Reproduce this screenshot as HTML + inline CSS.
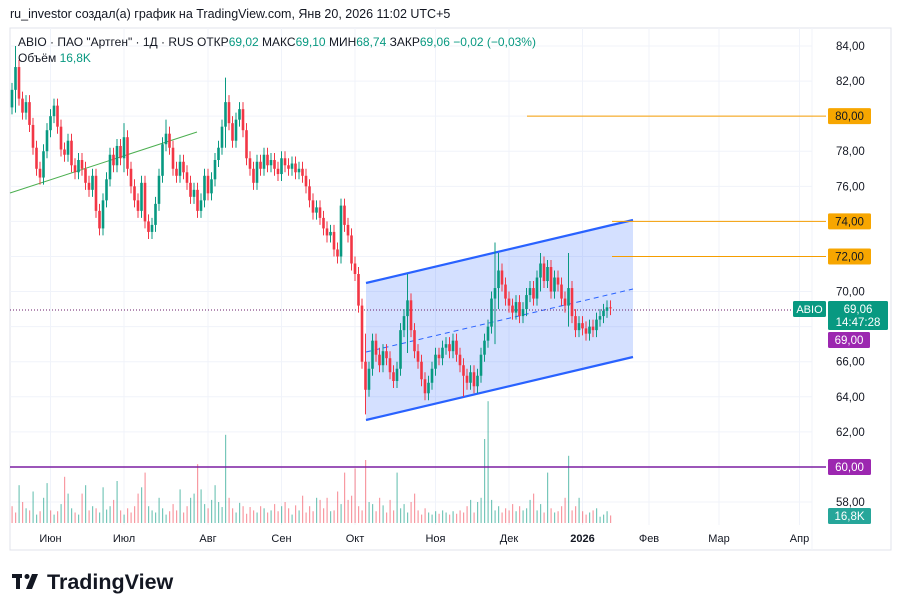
<!DOCTYPE html>
<html><head><meta charset="utf-8"><style>
body{margin:0;background:#fff;width:903px;height:612px;overflow:hidden;font-family:"Liberation Sans","DejaVu Sans",sans-serif}
</style></head><body>
<svg id="s" width="903" height="612" xmlns="http://www.w3.org/2000/svg" style="position:absolute;left:0;top:0">
<text x="10" y="18" font-size="12.5" fill="#131722">ru_investor создал(а) график на TradingView.com, Янв 20, 2026 11:02 UTC+5</text>
<rect x="10" y="28" width="881" height="522" fill="none" stroke="#e0e3eb"/>
<g id="grid"></g>
<g id="vol"></g>
<g id="draw"></g>
<g id="candles"></g>
<g id="axes"></g>
<text x="18" y="46" font-size="12" fill="#131722">ABIO · ПАО "Артген" · 1Д · RUS  ОТКР<tspan fill="#089981">69,02</tspan>  МАКС<tspan fill="#089981">69,10</tspan>  МИН<tspan fill="#089981">68,74</tspan>  ЗАКР<tspan fill="#089981">69,06</tspan>  <tspan fill="#089981">−0,02 (−0,03%)</tspan></text>
<text x="18" y="62" font-size="12" fill="#131722">Объём  <tspan fill="#089981">16,8K</tspan></text>
<g>
<rect x="12" y="574" width="10" height="4" fill="#131722"/><rect x="16" y="574" width="4" height="15" fill="#131722"/><circle cx="27" cy="576.5" r="2.5" fill="#131722"/><polygon points="32,574 38,574 32,589 26,589" fill="#131722"/>
<text x="47" y="589" font-size="21.5" font-weight="bold" fill="#131722">TradingView</text>
</g>
</svg>
<script>
const closes=[81.5,82.8,81.0,80.2,80.8,79.5,78.2,77.0,76.5,78.0,
79.2,80.0,80.6,79.4,78.1,77.8,78.6,77.2,76.8,77.5,
77.0,76.2,75.8,76.6,74.6,73.6,75.2,76.4,77.8,77.2,
78.3,77.6,78.8,77.0,76.0,75.2,74.6,76.2,74.0,73.4,
73.8,75.0,76.6,78.4,79.0,78.2,77.0,76.6,77.4,76.8,
76.2,75.4,75.8,74.6,75.2,76.6,75.6,76.4,77.5,78.2,
79.4,80.8,79.6,78.6,79.8,80.4,79.2,77.6,77.0,76.2,
77.4,77.0,77.8,77.2,77.5,77.0,76.7,77.6,77.2,77.0,
77.3,76.8,77.0,76.6,76.0,75.2,74.5,74.8,74.2,73.6,
73.2,73.4,72.4,72.0,74.9,73.8,73.2,71.6,71.0,69.2,
66.0,64.4,65.6,67.2,66.4,65.8,66.6,66.2,65.4,64.9,
65.6,67.8,68.6,69.5,67.8,66.6,66.0,65.0,64.2,64.8,
65.6,66.4,66.2,66.8,67.0,66.6,67.2,66.4,65.8,65.2,
64.8,65.4,64.6,65.2,66.4,67.2,68.0,69.6,70.2,71.2,
70.4,69.6,69.2,68.8,69.4,68.6,69.0,69.8,70.2,69.6,
70.8,71.6,70.6,71.4,70.0,70.8,70.4,69.6,69.2,70.2,
68.6,67.8,68.2,67.9,67.6,68.0,67.8,68.4,68.6,68.9,
69.1,69.06];
const firstOpen=80.5;
const spikeIdx=[1,32,44,61,101,113,129,138,139,151,159];
const spikeHigh=[84.0,79.6,79.8,82.2,67.6,71.0,66.0,72.8,72.2,72.2,72.2];
const spikeLow=[80.2,76.8,78.0,78.2,63.0,66.5,64.0,67.0,69.0,70.0,68.0];
const volumes=[40,25,90,50,35,30,75,20,28,60,
95,30,20,28,45,110,70,35,25,20,
70,90,30,40,35,25,85,32,40,55,
100,30,20,35,25,40,70,85,120,40,
30,25,60,35,20,28,45,30,80,25,
40,60,70,140,80,45,35,55,90,50,
38,210,60,35,25,48,40,22,38,30,
25,40,35,25,30,45,28,40,50,35,
20,42,30,65,25,40,28,60,55,35,
60,28,30,75,45,120,55,65,130,40,
30,150,50,45,28,60,42,25,55,30,
120,35,45,25,50,70,30,20,35,25,
20,28,22,30,25,20,28,22,30,25,
40,55,25,50,60,200,290,55,30,40,
25,35,30,45,28,40,30,35,55,70,
30,45,25,120,35,25,28,40,60,160,
30,40,60,28,20,25,30,35,15,20,
28,18];
const volUp=[0,0,1,0,1,0,1,1,0,1,1,0,1,0,1,0,1,1,0,1,0,1,0,1,0,1,1,1,1,0,1,0,1,0,0,0,0,1,0,1,1,1,1,1,1,0,0,0,1,0,0,1,1,0,1,1,0,1,1,1,1,1,0,0,1,1,0,0,0,0,1,0,1,0,1,0,0,1,0,0,1,0,1,0,0,0,0,1,0,0,0,1,0,0,1,0,0,0,0,0,0,0,1,1,0,0,1,0,0,0,1,1,1,1,0,0,0,0,0,1,1,1,0,1,1,0,1,0,0,0,0,1,0,1,1,1,1,1,1,1,0,0,0,0,1,0,1,1,1,0,1,1,0,1,0,1,0,0,0,1,0,0,1,0,0,1,0,1,1,1,1,0];
const priceTicks=[84,82,80,78,76,74,72,70,66,64,62,58];
const monthLabels=["Июн","Июл","Авг","Сен","Окт","Ноя","Дек","2026","Фев","Мар","Апр"];
const monthBar=[11,32,56,77,98,121,142,163,182,202,225];

const NS="http://www.w3.org/2000/svg";
const X0=12, STEP=3.5;
const xb=i=>X0+i*STEP;
const yp=p=>46+(84-p)*17.54;
function mk(tag,attrs,parent){const e=document.createElementNS(NS,tag);for(const k in attrs)e.setAttribute(k,attrs[k]);parent.appendChild(e);return e;}
const G=id=>document.getElementById(id);

monthBar.forEach(b=>{const l=mk('line',{x1:xb(b),x2:xb(b),y1:28,y2:525,stroke:'#f0f3fa'},G('grid'));

});
for(let p=58;p<=84;p+=2){const l=mk('line',{x1:10,x2:812,y1:yp(p),y2:yp(p),stroke:'#f0f3fa'},G('grid'));

}
mk('line',{x1:812,x2:812,y1:28,y2:550,stroke:'#f0f3fa'},G('grid'));

const VB=523, VS=0.42;
volumes.forEach((v,i)=>{const r=mk('rect',{x:xb(i)-0.5,y:VB-v*VS,width:1.2,height:v*VS,fill:volUp[i]?'rgba(8,153,129,0.55)':'rgba(242,54,69,0.5)'},G('vol'));

});

closes.forEach((c,i)=>{const o=i?closes[i-1]:firstOpen;let h=Math.max(o,c)+0.4,l=Math.min(o,c)-0.4;
const k=spikeIdx.indexOf(i);if(k>=0){h=Math.max(h,spikeHigh[k]);l=Math.min(l,spikeLow[k]);}
const col=c>=o?'#089981':'#f23645';const x=xb(i);
const g=mk('g',{},G('candles'));


mk('line',{x1:x,x2:x,y1:yp(h),y2:yp(l),stroke:col,'stroke-width':1},g);
const top=yp(Math.max(o,c)),bot=yp(Math.min(o,c));
mk('rect',{x:x-1.3,y:top,width:2.6,height:Math.max(1,bot-top),fill:col},g);});

const D=G('draw');
function line(a,n){const e=mk('line',a,D);return e;}
line({x1:10,y1:193,x2:197,y2:132,stroke:'#4caf50','stroke-width':1},'green-trendline');
const ch=mk('polygon',{points:'366,283 633,220 633,357 366,420',fill:'rgba(41,98,255,0.2)'},D);

line({x1:366,y1:283,x2:633,y2:220,stroke:'#2962ff','stroke-width':2.2},'channel-upper');
line({x1:366,y1:420,x2:633,y2:357,stroke:'#2962ff','stroke-width':2.2},'channel-lower');
line({x1:366,y1:352,x2:633,y2:289,stroke:'#2962ff','stroke-width':1,'stroke-dasharray':'5,4'},'channel-mid');
line({x1:527,y1:yp(80),x2:826,y2:yp(80),stroke:'#f59d00','stroke-width':1},'level-80');
line({x1:612,y1:yp(74),x2:826,y2:yp(74),stroke:'#f59d00','stroke-width':1},'level-74');
line({x1:612,y1:yp(72),x2:826,y2:yp(72),stroke:'#f59d00','stroke-width':1},'level-72');
line({x1:10,y1:yp(60),x2:826,y2:yp(60),stroke:'#7b1fa2','stroke-width':1.5},'level-60');
line({x1:10,y1:310,x2:792,y2:310,stroke:'#6a1b6a','stroke-width':1,'stroke-dasharray':'1,2'},'last-price-line');

const A=G('axes');
priceTicks.forEach(p=>{const t=mk('text',{x:836,y:yp(p)+4,'font-size':11.5,fill:'#131722'},A);t.textContent=p.toFixed(2).replace('.',',');

});
monthLabels.forEach((m,i)=>{const t=mk('text',{x:xb(monthBar[i]),y:542,'font-size':11,fill:'#131722','text-anchor':'middle','font-weight':m==='2026'?'bold':'normal'},A);t.textContent=m;

});
function badge(x,y,w,h,bg,fg,txt,name,fs){const g=mk('g',{},A);
mk('rect',{x:x,y:y,width:w,height:h,fill:bg,rx:1.5},g);
txt.forEach((s,j)=>{const t=mk('text',{x:x+w/2,y:y+12+j*13,'font-size':fs||11.5,fill:fg,'text-anchor':'middle'},g);t.textContent=s;});}
badge(828,yp(80)-8,43,16,'#f7a600','#131722',['80,00'],'label-80');
badge(828,yp(74)-8,43,16,'#f7a600','#131722',['74,00'],'label-74');
badge(828,yp(72)-8,43,16,'#f7a600','#131722',['72,00'],'label-72');
badge(828,yp(60)-8,43,16,'#9c27b0','#fff',['60,00'],'label-60');
badge(793,301,33,16,'#089981','#fff',['ABIO'],'symbol-label',11);
badge(828,301,60,29,'#089981','#fff',['69,06','14:47:28'],'last-price-label');
badge(828,332,42,16,'#9c27b0','#fff',['69,00'],'label-69');
badge(828,508,43,16,'#26a69a','#fff',['16,8K'],'volume-label');
</script>
</body></html>
